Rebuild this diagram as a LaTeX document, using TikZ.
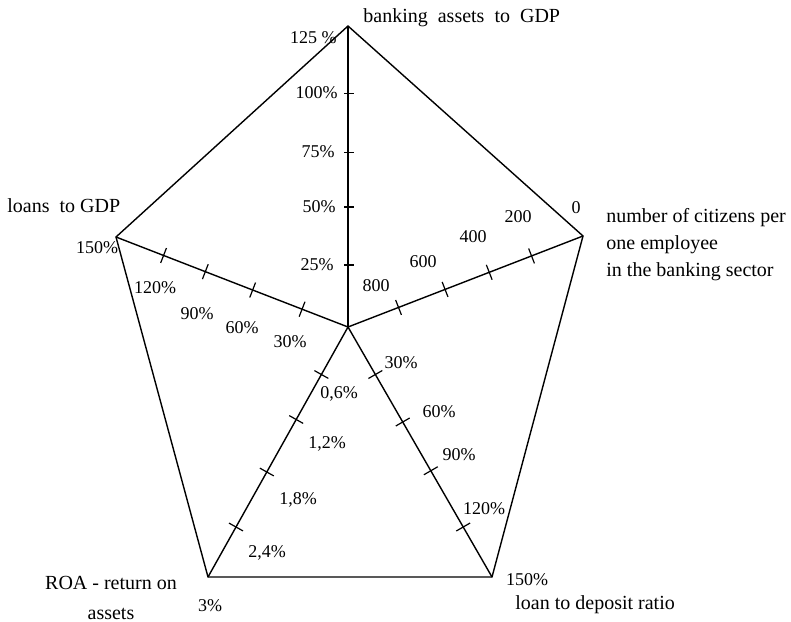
\documentclass[tikz,border=0pt]{standalone}
\usepackage{fontspec}
\setmainfont{Liberation Serif}
\usetikzlibrary{calc}

\tikzset{
  num/.style={font=\fontsize{9}{10}\selectfont, inner sep=0pt},
  lbl/.style={font=\fontsize{10}{13.5}\selectfont, inner sep=0pt},
  axis/.style={line width=0.7pt},
  tick/.style={line width=0.6pt}
}

\begin{document}
\begin{tikzpicture}[x=0.5pt, y=-0.5pt]
    \useasboundingbox (0,0) rectangle (791,621);

    % Centre and the five vertices
    \coordinate (O) at (348,327);
    \coordinate (A) at (348,26);
    \coordinate (B) at (583,236);
    \coordinate (C) at (492,577);
    \coordinate (D) at (208,577);
    \coordinate (E) at (116,237);

    % Outline and spokes
    \draw[axis, line join=miter] (A) -- (B) -- (C) -- (D) -- (E) -- cycle;
    \foreach \v in {A,B,C,D,E}
        \draw[axis] (O) -- (\v);

    % Ticks
    \foreach \f in {0.206,0.399,0.581,0.777}
        \draw[tick] ($(O)!\f!(A)$) ++(-4,0) -- ++(10,0);
    \foreach \f in {0.215,0.413,0.601,0.781}
        \draw[tick] ($(O)!\f!(B)!4pt!90:(B)$) -- ($(O)!\f!(B)!4pt!-90:(B)$);
    \foreach \f in {0.19,0.38,0.575,0.80}
        \draw[tick] ($(O)!\f!(C)!4pt!90:(C)$) -- ($(O)!\f!(C)!4pt!-90:(C)$);
    \foreach \f in {0.19,0.37,0.58,0.80}
        \draw[tick] ($(O)!\f!(D)!4pt!90:(D)$) -- ($(O)!\f!(D)!4pt!-90:(D)$);
    \foreach \f in {0.198,0.411,0.615,0.795}
        \draw[tick] ($(O)!\f!(E)!4pt!90:(E)$) -- ($(O)!\f!(E)!4pt!-90:(E)$);

    % Banking assets to GDP
    \node (tA) [lbl, anchor=west] at (363,18) {banking~~assets~~to~~GDP};
    \node (a125) [num, anchor=east] at (337,38) {125 \%};
    \node (a100) [num, anchor=east] at (338,93) {100\%};
    \node (a75) [num, anchor=east] at (335,152) {75\%};
    \node (a50) [num, anchor=east] at (336,207) {50\%};
    \node (a25) [num, anchor=east] at (334,265) {25\%};

    % Citizens per employee
    \node (tB) [lbl, anchor=west, align=left] at (606,245) {number of citizens per\\one employee\\in the banking sector};
    \node (b0) [num] at (576,208) {0};
    \node (b200) [num] at (518,217) {200};
    \node (b400) [num] at (473,237) {400};
    \node (b600) [num] at (423,262) {600};
    \node (b800) [num] at (376,286) {800};

    % Loan to deposit ratio
    \node (tC) [lbl, anchor=west] at (515,605) {loan to deposit ratio};
    \node (c150) [num] at (527,580) {150\%};
    \node (c120) [num] at (484,509) {120\%};
    \node (c90) [num] at (459,455) {90\%};
    \node (c60) [num] at (439,412) {60\%};
    \node (c30) [num] at (401,363) {30\%};

    % ROA
    \node (tD) [lbl, align=center, font=\fontsize{10}{15}\selectfont] at (111,598) {ROA - return on\\assets};
    \node (d3) [num] at (210,606) {3\%};
    \node (d24) [num] at (267,553) {2,4\%};
    \node (d18) [num] at (298,500) {1,8\%};
    \node (d12) [num] at (327,444) {1,2\%};
    \node (d06) [num] at (339,394) {0,6\%};

    % Loans to GDP
    \node (tE) [lbl, anchor=west] at (7,206) {loans~~to GDP};
    \node (e150) [num] at (97,248) {150\%};
    \node (e120) [num] at (155,288) {120\%};
    \node (e90) [num] at (197,314) {90\%};
    \node (e60) [num] at (242,328) {60\%};
    \node (e30) [num] at (290,342) {30\%};
\end{tikzpicture}
\end{document}
